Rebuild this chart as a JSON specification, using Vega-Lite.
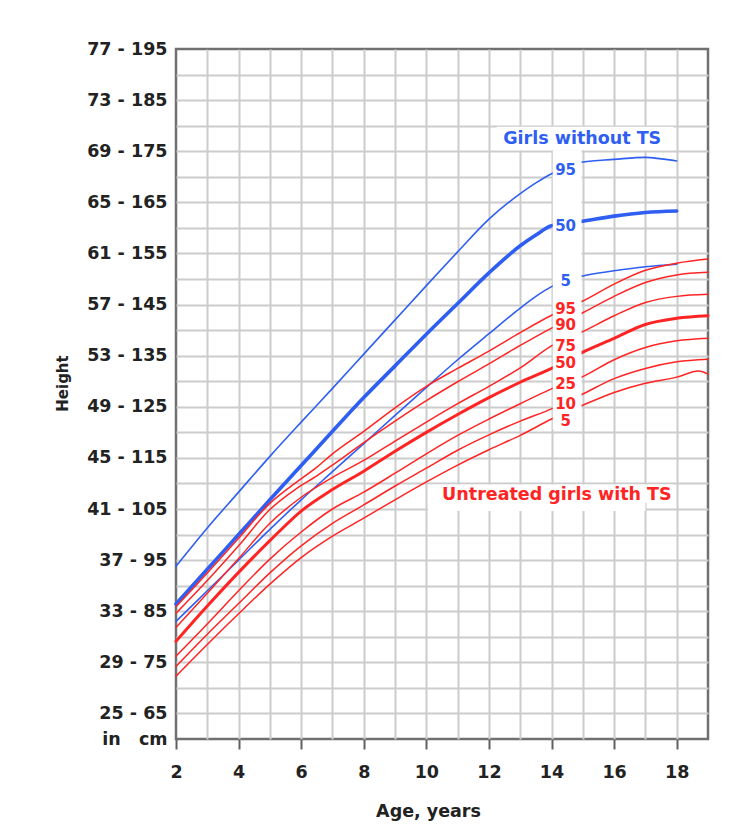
{
  "$schema": "https://vega.github.io/schema/vega-lite/v6.json",
  "width": 532,
  "height": 690,
  "autosize": {"type": "none"},
  "padding": {"left": 176, "top": 49, "right": 27, "bottom": 92},
  "background": "white",
  "config": {
    "view": {"stroke": "#707070", "strokeWidth": 2.5},
    "font": "DejaVu Sans"
  },
  "datasets": {
    "curves": [
      {"c":"N95","g":"N","a":2,"h":93.8},{"c":"N95","g":"N","a":3,"h":101.3},{"c":"N95","g":"N","a":4,"h":108.3},{"c":"N95","g":"N","a":5,"h":115.3},{"c":"N95","g":"N","a":6,"h":122},{"c":"N95","g":"N","a":7,"h":128.6},{"c":"N95","g":"N","a":8,"h":135.3},{"c":"N95","g":"N","a":9,"h":142},{"c":"N95","g":"N","a":10,"h":148.7},{"c":"N95","g":"N","a":11,"h":155.3},{"c":"N95","g":"N","a":12,"h":161.7},{"c":"N95","g":"N","a":13,"h":166.7},{"c":"N95","g":"N","a":13.5,"h":168.8},{"c":"N95","g":"N","a":14,"h":170.6},{"c":"N95","g":"N","a":15,"h":172.9},{"c":"N95","g":"N","a":16,"h":173.4},{"c":"N95","g":"N","a":17,"h":173.8},{"c":"N95","g":"N","a":17.5,"h":173.5},{"c":"N95","g":"N","a":18,"h":173.1},
      {"c":"N50","g":"N","a":2,"h":86.4},{"c":"N50","g":"N","a":3,"h":93.2},{"c":"N50","g":"N","a":4,"h":100},{"c":"N50","g":"N","a":5,"h":106.8},{"c":"N50","g":"N","a":6,"h":113.5},{"c":"N50","g":"N","a":7,"h":120.2},{"c":"N50","g":"N","a":8,"h":126.8},{"c":"N50","g":"N","a":9,"h":133},{"c":"N50","g":"N","a":10,"h":139.2},{"c":"N50","g":"N","a":11,"h":145.2},{"c":"N50","g":"N","a":12,"h":151.2},{"c":"N50","g":"N","a":13,"h":156.5},{"c":"N50","g":"N","a":13.5,"h":158.6},{"c":"N50","g":"N","a":14,"h":160.4},{"c":"N50","g":"N","a":15,"h":161.3},{"c":"N50","g":"N","a":16,"h":162.3},{"c":"N50","g":"N","a":17,"h":163},{"c":"N50","g":"N","a":18,"h":163.3},
      {"c":"N5","g":"N","a":2,"h":83},{"c":"N5","g":"N","a":3,"h":89},{"c":"N5","g":"N","a":4,"h":95},{"c":"N5","g":"N","a":5,"h":101},{"c":"N5","g":"N","a":6,"h":106.8},{"c":"N5","g":"N","a":7,"h":112.3},{"c":"N5","g":"N","a":8,"h":117.8},{"c":"N5","g":"N","a":9,"h":123.3},{"c":"N5","g":"N","a":10,"h":128.8},{"c":"N5","g":"N","a":11,"h":134.2},{"c":"N5","g":"N","a":12,"h":139.3},{"c":"N5","g":"N","a":13,"h":144.3},{"c":"N5","g":"N","a":13.5,"h":146.6},{"c":"N5","g":"N","a":14,"h":148.5},{"c":"N5","g":"N","a":15,"h":150.6},{"c":"N5","g":"N","a":16,"h":151.6},{"c":"N5","g":"N","a":17,"h":152.4},{"c":"N5","g":"N","a":18,"h":152.9},
      {"c":"T95","g":"T","a":2,"h":85.9},{"c":"T95","g":"T","a":3,"h":92.5},{"c":"T95","g":"T","a":4,"h":99.3},{"c":"T95","g":"T","a":5,"h":106.1},{"c":"T95","g":"T","a":5.75,"h":109.8},{"c":"T95","g":"T","a":6.5,"h":113.2},{"c":"T95","g":"T","a":7,"h":115.8},{"c":"T95","g":"T","a":8,"h":120.2},{"c":"T95","g":"T","a":9,"h":124.8},{"c":"T95","g":"T","a":10,"h":129},{"c":"T95","g":"T","a":11,"h":132.5},{"c":"T95","g":"T","a":12,"h":135.9},{"c":"T95","g":"T","a":13,"h":139.5},{"c":"T95","g":"T","a":14,"h":142.9},{"c":"T95","g":"T","a":15,"h":145.7},{"c":"T95","g":"T","a":16,"h":149},{"c":"T95","g":"T","a":17,"h":151.7},{"c":"T95","g":"T","a":18,"h":153.1},{"c":"T95","g":"T","a":19,"h":153.9},
      {"c":"T90","g":"T","a":2,"h":84.6},{"c":"T90","g":"T","a":3,"h":91},{"c":"T90","g":"T","a":4,"h":97.8},{"c":"T90","g":"T","a":5,"h":104.9},{"c":"T90","g":"T","a":5.85,"h":109},{"c":"T90","g":"T","a":6.5,"h":111.5},{"c":"T90","g":"T","a":7,"h":113.6},{"c":"T90","g":"T","a":8,"h":118},{"c":"T90","g":"T","a":9,"h":122.2},{"c":"T90","g":"T","a":10,"h":126.2},{"c":"T90","g":"T","a":11,"h":129.9},{"c":"T90","g":"T","a":12,"h":133.4},{"c":"T90","g":"T","a":13,"h":137},{"c":"T90","g":"T","a":14,"h":140.4},{"c":"T90","g":"T","a":15,"h":143.4},{"c":"T90","g":"T","a":16,"h":146.6},{"c":"T90","g":"T","a":17,"h":149.3},{"c":"T90","g":"T","a":18,"h":150.8},{"c":"T90","g":"T","a":19,"h":151.3},
      {"c":"T75","g":"T","a":2,"h":81.8},{"c":"T75","g":"T","a":3,"h":88.5},{"c":"T75","g":"T","a":4,"h":95.3},{"c":"T75","g":"T","a":5,"h":102.2},{"c":"T75","g":"T","a":6,"h":107.3},{"c":"T75","g":"T","a":7,"h":111.2},{"c":"T75","g":"T","a":8,"h":114.5},{"c":"T75","g":"T","a":9,"h":118.3},{"c":"T75","g":"T","a":10,"h":122},{"c":"T75","g":"T","a":11,"h":125.6},{"c":"T75","g":"T","a":12,"h":129},{"c":"T75","g":"T","a":13,"h":132.6},{"c":"T75","g":"T","a":14,"h":136.9},{"c":"T75","g":"T","a":15,"h":139.7},{"c":"T75","g":"T","a":16,"h":142.8},{"c":"T75","g":"T","a":17,"h":145.4},{"c":"T75","g":"T","a":18,"h":146.6},{"c":"T75","g":"T","a":19,"h":147},
      {"c":"T50","g":"T","a":2,"h":79.1},{"c":"T50","g":"T","a":3,"h":86},{"c":"T50","g":"T","a":4,"h":92.6},{"c":"T50","g":"T","a":5,"h":98.8},{"c":"T50","g":"T","a":6,"h":104.6},{"c":"T50","g":"T","a":7,"h":108.8},{"c":"T50","g":"T","a":8,"h":112.4},{"c":"T50","g":"T","a":9,"h":116.3},{"c":"T50","g":"T","a":10,"h":120},{"c":"T50","g":"T","a":11,"h":123.5},{"c":"T50","g":"T","a":12,"h":126.8},{"c":"T50","g":"T","a":13,"h":129.8},{"c":"T50","g":"T","a":14,"h":132.5},{"c":"T50","g":"T","a":15,"h":135.7},{"c":"T50","g":"T","a":16,"h":138.4},{"c":"T50","g":"T","a":17,"h":141.1},{"c":"T50","g":"T","a":18,"h":142.3},{"c":"T50","g":"T","a":19,"h":142.8},
      {"c":"T25","g":"T","a":2,"h":76.2},{"c":"T25","g":"T","a":3,"h":82.5},{"c":"T25","g":"T","a":4,"h":89},{"c":"T25","g":"T","a":5,"h":95.2},{"c":"T25","g":"T","a":6,"h":100.5},{"c":"T25","g":"T","a":7,"h":105},{"c":"T25","g":"T","a":8,"h":108.3},{"c":"T25","g":"T","a":9,"h":112},{"c":"T25","g":"T","a":10,"h":115.8},{"c":"T25","g":"T","a":11,"h":119.4},{"c":"T25","g":"T","a":12,"h":122.6},{"c":"T25","g":"T","a":13,"h":125.6},{"c":"T25","g":"T","a":14,"h":128.5},{"c":"T25","g":"T","a":15,"h":130.9},{"c":"T25","g":"T","a":16,"h":134.2},{"c":"T25","g":"T","a":17,"h":136.6},{"c":"T25","g":"T","a":18,"h":137.9},{"c":"T25","g":"T","a":19,"h":138.4},
      {"c":"T10","g":"T","a":2,"h":74.2},{"c":"T10","g":"T","a":3,"h":80.5},{"c":"T10","g":"T","a":4,"h":86.5},{"c":"T10","g":"T","a":5,"h":92.5},{"c":"T10","g":"T","a":6,"h":97.8},{"c":"T10","g":"T","a":7,"h":102.2},{"c":"T10","g":"T","a":8,"h":105.8},{"c":"T10","g":"T","a":9,"h":109.5},{"c":"T10","g":"T","a":10,"h":113},{"c":"T10","g":"T","a":11,"h":116.5},{"c":"T10","g":"T","a":12,"h":119.5},{"c":"T10","g":"T","a":13,"h":122.2},{"c":"T10","g":"T","a":14,"h":124.6},{"c":"T10","g":"T","a":15,"h":127.5},{"c":"T10","g":"T","a":16,"h":130.5},{"c":"T10","g":"T","a":17,"h":132.5},{"c":"T10","g":"T","a":18,"h":133.8},{"c":"T10","g":"T","a":19,"h":134.3},
      {"c":"T5","g":"T","a":2,"h":72.3},{"c":"T5","g":"T","a":3,"h":78.5},{"c":"T5","g":"T","a":4,"h":84.5},{"c":"T5","g":"T","a":5,"h":90.3},{"c":"T5","g":"T","a":6,"h":95.5},{"c":"T5","g":"T","a":7,"h":99.7},{"c":"T5","g":"T","a":8,"h":103.2},{"c":"T5","g":"T","a":9,"h":106.8},{"c":"T5","g":"T","a":10,"h":110.3},{"c":"T5","g":"T","a":11,"h":113.6},{"c":"T5","g":"T","a":12,"h":116.6},{"c":"T5","g":"T","a":13,"h":119.4},{"c":"T5","g":"T","a":14,"h":122.6},{"c":"T5","g":"T","a":15,"h":125.3},{"c":"T5","g":"T","a":16,"h":127.8},{"c":"T5","g":"T","a":17,"h":129.6},{"c":"T5","g":"T","a":18,"h":130.8},{"c":"T5","g":"T","a":18.7,"h":132},{"c":"T5","g":"T","a":19,"h":131.4}
    ],
    "bands": [
      {"a1":14.04,"a2":14.96,"h1":120.6,"h2":175.2},
      {"a1":12.25,"a2":17.9,"h1":175.2,"h2":179.8},
      {"a1":10.05,"a2":17.9,"h1":106.2,"h2":109.8},
      {"a1":10.05,"a2":17.0,"h1":104.6,"h2":106.2}
    ],
    "pcts": [
      {"a":14.45,"h":171.4,"t":"95","g":"N"},
      {"a":14.45,"h":160.3,"t":"50","g":"N"},
      {"a":14.45,"h":149.6,"t":"5","g":"N"},
      {"a":14.45,"h":144.2,"t":"95","g":"T"},
      {"a":14.45,"h":141.0,"t":"90","g":"T"},
      {"a":14.45,"h":136.9,"t":"75","g":"T"},
      {"a":14.45,"h":133.5,"t":"50","g":"T"},
      {"a":14.45,"h":129.4,"t":"25","g":"T"},
      {"a":14.45,"h":125.6,"t":"10","g":"T"},
      {"a":14.45,"h":122.2,"t":"5","g":"T"}
    ],
    "titles": [
      {"a":14.98,"h":177.3,"t":"Girls without TS","g":"N"},
      {"a":14.17,"h":107.7,"t":"Untreated girls with TS","g":"T"}
    ]
  },
  "resolve": {"axis": {"x": "independent", "y": "independent"}},
  "layer": [
    {
      "data": {"name": "curves"},
      "mark": {"type": "line", "interpolate": "monotone", "strokeCap": "round", "strokeJoin": "round"},
      "encoding": {
        "x": {"field": "a", "type": "quantitative",
          "scale": {"domain": [2, 19], "nice": false, "zero": false},
          "axis": {"orient": "bottom", "values": [3,4,5,6,7,8,9,10,11,12,13,14,15,16,17,18], "grid": true, "gridColor": "#cccccc", "gridWidth": 2, "labels": false, "ticks": false, "domain": false, "title": null, "zindex": 0}},
        "y": {"field": "h", "type": "quantitative",
          "scale": {"domain": [60, 195], "nice": false, "zero": false},
          "axis": {"orient": "left", "values": [65,70,75,80,85,90,95,100,105,110,115,120,125,130,135,140,145,150,155,160,165,170,175,180,185,190], "grid": true, "gridColor": "#cccccc", "gridWidth": 2, "labels": false, "ticks": false, "domain": false, "title": null, "zindex": 0}},
        "color": {"field": "g", "type": "nominal", "scale": {"domain": ["N", "T"], "range": ["#2f5ff2", "#ff2424"]}, "legend": null},
        "strokeWidth": {"field": "c", "type": "nominal", "scale": {"type": "ordinal", "domain": ["N95","N50","N5","T95","T90","T75","T50","T25","T10","T5"], "range": [1.6,3.6,1.6,1.5,1.5,1.5,3,1.5,1.5,1.5]}, "legend": null},
        "detail": {"field": "c", "type": "nominal"}
      }
    },
    {
      "data": {"name": "bands"},
      "mark": {"type": "rect", "fill": "white"},
      "encoding": {
        "x": {"field": "a1", "type": "quantitative", "axis": null},
        "x2": {"field": "a2"},
        "y": {"field": "h1", "type": "quantitative", "axis": null},
        "y2": {"field": "h2"}
      }
    },
    {
      "data": {"name": "pcts"},
      "mark": {"type": "text", "font": "DejaVu Sans", "fontWeight": "bold", "fontSize": 15, "align": "center", "baseline": "middle"},
      "encoding": {
        "x": {"field": "a", "type": "quantitative", "axis": null},
        "y": {"field": "h", "type": "quantitative", "axis": null},
        "text": {"field": "t"},
        "color": {"field": "g", "type": "nominal", "legend": null}
      }
    },
    {
      "data": {"name": "titles"},
      "mark": {"type": "text", "font": "DejaVu Sans", "fontWeight": "bold", "fontSize": 17.5, "align": "center", "baseline": "middle"},
      "encoding": {
        "x": {"field": "a", "type": "quantitative",
          "axis": {"orient": "bottom", "values": [2,4,6,8,10,12,14,16,18], "grid": false, "domain": false, "ticks": true, "tickSize": 10, "tickWidth": 2, "tickColor": "#606060", "labelFont": "DejaVu Sans", "labelFontSize": 17.5, "labelFontWeight": "bold", "labelColor": "#222222", "labelPadding": 14, "labelFlush": false, "labelOverlap": false, "title": "Age, years", "titleFont": "DejaVu Sans", "titleFontSize": 17.5, "titleFontWeight": "bold", "titleColor": "#222222", "titleX": 252, "titleY": 72, "titleBaseline": "middle", "titleAlign": "center"}},
        "y": {"field": "h", "type": "quantitative",
          "axis": {"orient": "left", "values": [60,65,75,85,95,105,115,125,135,145,155,165,175,185,195], "labelExpr": "datum.value == 60 ? 'in\u00a0\u00a0\u00a0cm' : ((datum.value - 65) / 10 * 4 + 25) + ' - ' + datum.value", "grid": false, "domain": false, "ticks": false, "labelFont": "DejaVu Sans", "labelFontSize": 17.5, "labelFontWeight": "bold", "labelColor": "#222222", "labelPadding": 9, "labelFlush": false, "labelOverlap": false, "title": "Height", "titleFont": "DejaVu Sans", "titleFontSize": 15, "titleFontWeight": "bold", "titleColor": "#222222", "titleX": -114, "titleY": 334, "titleBaseline": "middle", "titleAlign": "center", "titleAngle": -90}},
        "text": {"field": "t"},
        "color": {"field": "g", "type": "nominal", "legend": null}
      }
    }
  ]
}
